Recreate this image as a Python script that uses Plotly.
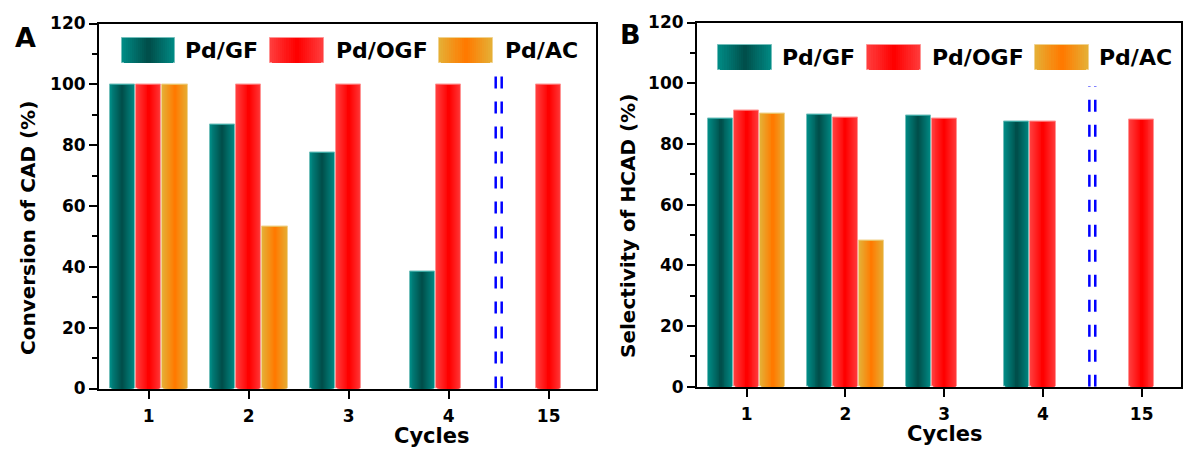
import plotly.graph_objects as go

# ---------------- data ----------------
CYCLES = ["1", "2", "3", "4", "15"]
SERIES = ["Pd/GF", "Pd/OGF", "Pd/AC"]

CONV_GF = [100, 86.8, 77.6, 38.6, None]
CONV_OGF = [100, 100, 100, 100, 100]
CONV_AC = [100, 53.4, None, None, None]

SEL_GF = [88.4, 89.6, 89.2, 87.5, None]
SEL_OGF = [91.1, 88.6, 88.4, 87.5, 87.9]
SEL_AC = [90.1, 48.3, None, None, None]

Y_TICKS = [0, 20, 40, 60, 80, 100, 120]

# ---------------- style ----------------
W, H = 1183, 450
FONT = "DejaVu Sans"
GRAD = {  # (edge colour, centre colour)
    "Pd/GF": ("#008a84", "#004f4b"),
    "Pd/OGF": ("#ff3c3c", "#ff0000"),
    "Pd/AC": ("#e6ae34", "#ff7a00"),
}
N_LAYERS = 13
SLOT = 0.264
BAR_W = 0.255


def hex2rgb(h):
    h = h.lstrip("#")
    return tuple(int(h[i:i + 2], 16) for i in (0, 2, 4))


def lerp(c1, c2, t):
    a, b = hex2rgb(c1), hex2rgb(c2)
    return "rgb(%d,%d,%d)" % tuple(round(a[i] + (b[i] - a[i]) * t) for i in range(3))


def gradient_bars(fig, xs, ys, width, name, xaxis, yaxis, base=None):
    edge, centre = GRAD[name]
    outline = lerp(edge, "#ffffff", 0.45)
    for k in range(N_LAYERS):
        t = k / (N_LAYERS - 1)
        w = width * (N_LAYERS - k) / N_LAYERS
        fig.add_trace(go.Bar(
            x=xs, y=ys, base=base,
            width=w, offset=-w / 2,
            marker=dict(color=lerp(edge, centre, t),
                        line=dict(width=1 if k == 0 else 0, color=outline)),
            xaxis=xaxis, yaxis=yaxis, showlegend=False, hoverinfo="skip",
            name=name,
        ))


fig = go.Figure()

panels = [
    ("x", "y", [CONV_GF, CONV_OGF, CONV_AC]),
    ("x2", "y2", [SEL_GF, SEL_OGF, SEL_AC]),
]
for xa, ya, values in panels:
    for j, (name, vals) in enumerate(zip(SERIES, values)):
        xs = [i + (j - 1) * SLOT for i in range(len(CYCLES))]
        gradient_bars(fig, xs, vals, BAR_W, name, xa, ya)

# ---------------- custom legends (pixel overlay axis) ----------------
SW_W, SW_H = 53.5, 25
LEG_A = {"sw_x": [121.7, 270.0, 439.0], "txt_x": [183, 334, 503], "top": 38.3}
LEG_B = {"sw_x": [718.3, 867.3, 1035.0], "txt_x": [780, 930, 1097], "top": 45.0}
annotations = []
for leg in (LEG_A, LEG_B):
    for name, sx, tx in zip(SERIES, leg["sw_x"], leg["txt_x"]):
        gradient_bars(fig, [sx + SW_W / 2], [SW_H], SW_W, name, "x3", "y3", base=[leg["top"]])
        annotations.append(dict(
            x=tx / W, y=1 - (leg["top"] + SW_H / 2) / H, xref="paper", yref="paper",
            text=name, showarrow=False, xanchor="left", yanchor="middle",
            font=dict(family=FONT, size=22, color="black", weight="bold")))

# ---------------- axes ----------------
A_X = (99, 596)
A_Y = (23.5, 388.5)
B_X = (697, 1181)
B_Y = (22.5, 386.7)


def xaxis(dom, rng):
    return dict(domain=[dom[0] / W, dom[1] / W], range=list(rng),
                tickvals=list(range(len(CYCLES))), ticktext=CYCLES,
                ticks="outside", ticklen=8, tickwidth=2, tickcolor="black",
                showline=True, linewidth=2, linecolor="black", mirror=True,
                showgrid=False, zeroline=False, automargin=False,
                ticklabelstandoff=3,
                tickfont=dict(family=FONT, size=17, color="black", weight="bold"))


def yaxis(dom, anchor):
    return dict(domain=[1 - dom[1] / H, 1 - dom[0] / H], range=[0, 120],
                tickvals=Y_TICKS, ticks="outside", ticklen=8, tickwidth=2,
                tickcolor="black",
                minor=dict(dtick=10, tick0=0, ticks="outside", ticklen=5,
                           tickwidth=1.5, tickcolor="black", showgrid=False),
                showline=True, linewidth=2, linecolor="black", mirror=True,
                showgrid=False, zeroline=False, anchor=anchor, automargin=False,
                tickfont=dict(family=FONT, size=17, color="black", weight="bold"))


fig.update_layout(
    template="none",
    width=W, height=H,
    margin=dict(l=0, r=0, t=0, b=0, pad=0),
    paper_bgcolor="white", plot_bgcolor="rgba(0,0,0,0)",
    barmode="overlay", bargap=0, showlegend=False,
    xaxis=dict(xaxis(A_X, (-0.497, 4.473)), anchor="y"),
    yaxis=yaxis(A_Y, "x"),
    xaxis2=dict(xaxis(B_X, (-0.503, 4.398)), anchor="y2"),
    yaxis2=yaxis(B_Y, "x2"),
    xaxis3=dict(domain=[0, 1], range=[0, W], visible=False, anchor="y3",
                showgrid=False, zeroline=False, automargin=False),
    yaxis3=dict(domain=[0, 1], range=[H, 0], visible=False, anchor="x3",
                showgrid=False, zeroline=False, automargin=False),
)

# axis break marks (double dashed blue line between 4 and 15)
for xr, yr, top in (("x", "y", 104), ("x2", "y2", 99)):
    for dx in (-0.03, 0.03):
        fig.add_shape(type="line", xref=xr, yref=yr, x0=3.5 + dx, x1=3.5 + dx,
                      y0=0, y1=top,
                      line=dict(color="#0000ff", width=2.5, dash="12px,13px"))

# text labels
TXT = dict(family=FONT, color="black", weight="bold")
extra = [
    dict(text="A", x=25, y=37.5, size=27, angle=0),
    dict(text="B", x=630, y=35, size=27, angle=0),
    dict(text="Conversion of CAD (%)", x=28, y=228, size=20, angle=-90),
    dict(text="Selectivity of HCAD (%)", x=628, y=226, size=20, angle=-90),
    dict(text="Cycles", x=432, y=436, size=21, angle=0),
    dict(text="Cycles", x=945, y=434, size=21, angle=0),
]
for e in extra:
    annotations.append(dict(
        x=e["x"] / W, y=1 - e["y"] / H, xref="paper", yref="paper",
        text=e["text"], showarrow=False, xanchor="center", yanchor="middle",
        textangle=e["angle"], font=dict(TXT, size=e["size"])))

fig.update_layout(annotations=annotations)

fig.write_html("out.html")
